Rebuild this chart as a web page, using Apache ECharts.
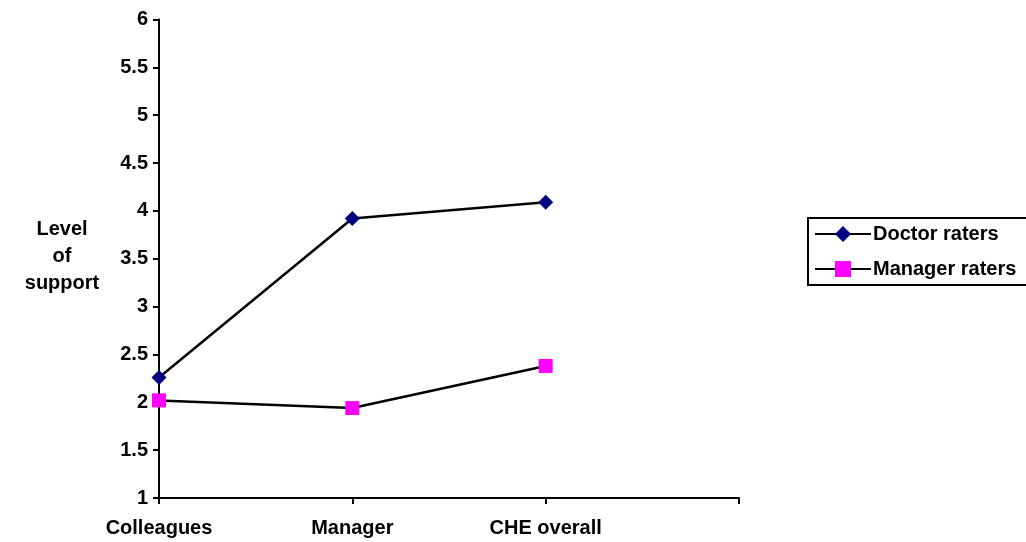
<!DOCTYPE html>
<html>
<head>
<meta charset="utf-8">
<script src="https://cdn.jsdelivr.net/npm/echarts@6/dist/echarts.min.js"></script>
<style>
  html, body { margin: 0; padding: 0; background: #fff; }
  #chart { width: 1026px; height: 542px; }
</style>
</head>
<body>
<div id="chart"></div>
<script>
// Categories along the x axis (the last slot is left blank)
const categories = ['Colleagues', 'Manager', 'CHE overall', ''];
// Mean level of support by rater group
const doctorRaters = [2.26, 3.92, 4.09];
const managerRaters = [2.02, 1.94, 2.38];
const seriesNames = ['Doctor raters', 'Manager raters'];

const FONT = '"Liberation Sans", Arial, sans-serif';
const FS = 20;
const chart = echarts.init(document.getElementById('chart'));

chart.setOption({
  backgroundColor: '#ffffff',
  animation: false,
  grid: { left: 159, right: 287, top: 19.5, bottom: 44, containLabel: false },
  graphic: [{
    type: 'text',
    x: 62,
    y: 216,
    style: {
      text: 'Level\nof\nsupport',
      font: 'bold ' + FS + 'px ' + FONT,
      fill: '#000',
      align: 'center',
      verticalAlign: 'top',
      lineHeight: 27
    }
  }],
  legend: {
    left: 808,
    top: 218,
    orient: 'vertical',
    itemGap: 15,
    itemWidth: 56,
    itemHeight: 20,
    padding: [6, 14, 6, 6],
    borderColor: '#000',
    borderWidth: 2,
    textStyle: { fontFamily: FONT, fontWeight: 'bold', fontSize: FS, color: '#000', padding: [0, 0, 0, -3] },
    data: seriesNames
  },
  xAxis: {
    type: 'category',
    data: categories,
    boundaryGap: false,
    axisLine: { lineStyle: { color: '#000', width: 2 } },
    axisTick: { show: true, length: 6, lineStyle: { color: '#000', width: 2 } },
    axisLabel: { fontFamily: FONT, fontWeight: 'bold', fontSize: FS, color: '#000', margin: 20 },
    splitLine: { show: false }
  },
  yAxis: {
    type: 'value',
    min: 1,
    max: 6,
    interval: 0.5,
    axisLine: { show: true, lineStyle: { color: '#000', width: 2 } },
    axisTick: { show: true, length: 6, lineStyle: { color: '#000', width: 2 } },
    axisLabel: { fontFamily: FONT, fontWeight: 'bold', fontSize: FS, color: '#000', margin: 11 },
    splitLine: { show: false }
  },
  series: [
    {
      name: seriesNames[0],
      type: 'line',
      data: doctorRaters,
      symbol: 'diamond',
      symbolSize: 15,
      itemStyle: { color: '#000080' },
      lineStyle: { color: '#000', width: 2.5 }
    },
    {
      name: seriesNames[1],
      type: 'line',
      data: managerRaters,
      symbol: 'rect',
      symbolSize: 14,
      itemStyle: { color: '#ff00ff' },
      lineStyle: { color: '#000', width: 2.5 }
    }
  ]
});
</script>
</body>
</html>
